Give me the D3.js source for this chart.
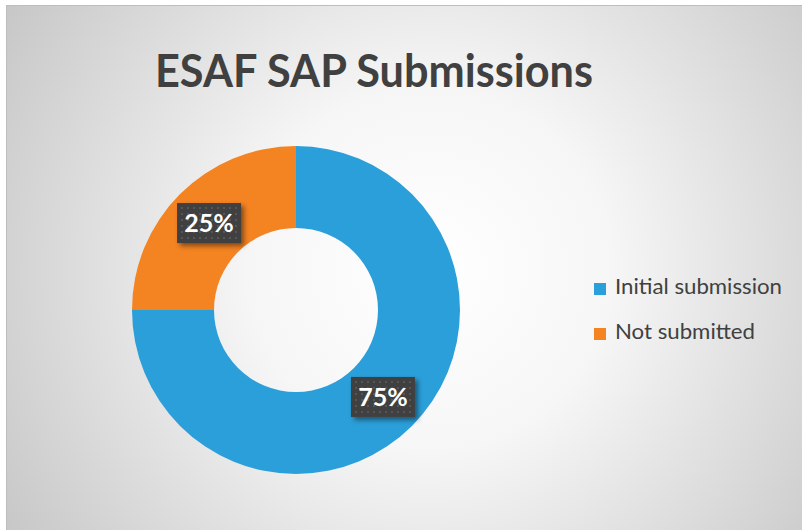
<!DOCTYPE html>
<html>
<head>
<meta charset="utf-8">
<script src="https://cdn.jsdelivr.net/npm/d3@7"></script>
<style>
  html, body { margin: 0; padding: 0; background: #fff; }
  svg { display: block; font-family: Lato, "Open Sans", sans-serif; }
</style>
</head>
<body>
<div id="chart"></div>
<script>
const title = 'ESAF SAP Submissions';
const categories = ['Initial submission', 'Not submitted'];
const values = [75, 25];
const colors = ['#2B9FD9', '#F48322'];

const width = 802, height = 530;
const cx = 296, cy = 310;
const outerR = 164, innerR = 82;

const svg = d3.select('#chart').append('svg')
  .attr('width', width)
  .attr('height', height);

const defs = svg.append('defs');

const bg = defs.append('radialGradient')
  .attr('id', 'bg')
  .attr('gradientUnits', 'userSpaceOnUse')
  .attr('cx', 430).attr('cy', 270).attr('r', 520);
bg.append('stop').attr('offset', '0%').attr('stop-color', '#ffffff');
bg.append('stop').attr('offset', '35%').attr('stop-color', '#f6f6f6');
bg.append('stop').attr('offset', '100%').attr('stop-color', '#c4c4c4');

const dots = defs.append('pattern')
  .attr('id', 'dots')
  .attr('patternUnits', 'userSpaceOnUse')
  .attr('width', 6).attr('height', 6);
dots.append('rect').attr('width', 6).attr('height', 6).attr('fill', '#3f3f3f');
dots.append('rect').attr('x', 2).attr('y', 2).attr('width', 2).attr('height', 2).attr('fill', '#575757');

const shadow = defs.append('filter')
  .attr('id', 'shadow')
  .attr('x', '-30%').attr('y', '-30%').attr('width', '160%').attr('height', '160%');
shadow.append('feDropShadow')
  .attr('dx', 3).attr('dy', 3).attr('stdDeviation', 2.5)
  .attr('flood-color', '#000').attr('flood-opacity', 0.45);

// chart area
svg.append('rect')
  .attr('x', 6.5).attr('y', 5.5)
  .attr('width', width - 6).attr('height', height - 5)
  .attr('fill', 'url(#bg)')
  .attr('stroke', '#bdbdbd');

// fit text to a measured width
function fitWidth(sel, w) {
  const len = sel.node().getComputedTextLength();
  if (Math.abs(len - w) > 2) sel.attr('textLength', w).attr('lengthAdjust', 'spacingAndGlyphs');
}

const titleText = svg.append('text')
  .attr('x', 374).attr('y', 87)
  .attr('text-anchor', 'middle')
  .attr('font-size', 45)
  .attr('font-weight', 700)
  .attr('fill', '#404040')
  .text(title);
fitWidth(titleText, 438);

const pie = d3.pie().sort(null).value(d => d);
const arcs = pie(values);
const arc = d3.arc().innerRadius(innerR).outerRadius(outerR);

const g = svg.append('g').attr('transform', `translate(${cx},${cy})`);

g.selectAll('path.slice')
  .data(arcs)
  .join('path')
  .attr('class', 'slice')
  .attr('d', arc)
  .attr('fill', (d, i) => colors[i]);

const labels = g.selectAll('g.label')
  .data(arcs)
  .join('g')
  .attr('class', 'label')
  .attr('transform', d => {
    const [x, y] = arc.centroid(d);
    return `translate(${x},${y})`;
  });

labels.append('rect')
  .attr('x', -32).attr('y', -20)
  .attr('width', 64).attr('height', 40)
  .attr('fill', 'url(#dots)')
  .attr('filter', 'url(#shadow)');

labels.append('text')
  .attr('text-anchor', 'middle')
  .attr('y', 9)
  .attr('font-size', 25)
  .attr('font-weight', 700)
  .attr('fill', '#ffffff')
  .text(d => d3.format('.0%')(d.value / d3.sum(values)));

const legend = svg.append('g').attr('transform', 'translate(594, 294)');
const items = legend.selectAll('g')
  .data(categories)
  .join('g')
  .attr('transform', (d, i) => `translate(0, ${i * 45})`);

items.append('rect')
  .attr('x', 0).attr('y', -11)
  .attr('width', 12).attr('height', 12)
  .attr('fill', (d, i) => colors[i]);

const legendWidths = [167, 140];
items.append('text')
  .attr('x', 21).attr('y', 0)
  .attr('font-size', 21)
  .attr('fill', '#404040')
  .text(d => d)
  .each(function (d, i) { fitWidth(d3.select(this), legendWidths[i]); });
</script>
</body>
</html>
